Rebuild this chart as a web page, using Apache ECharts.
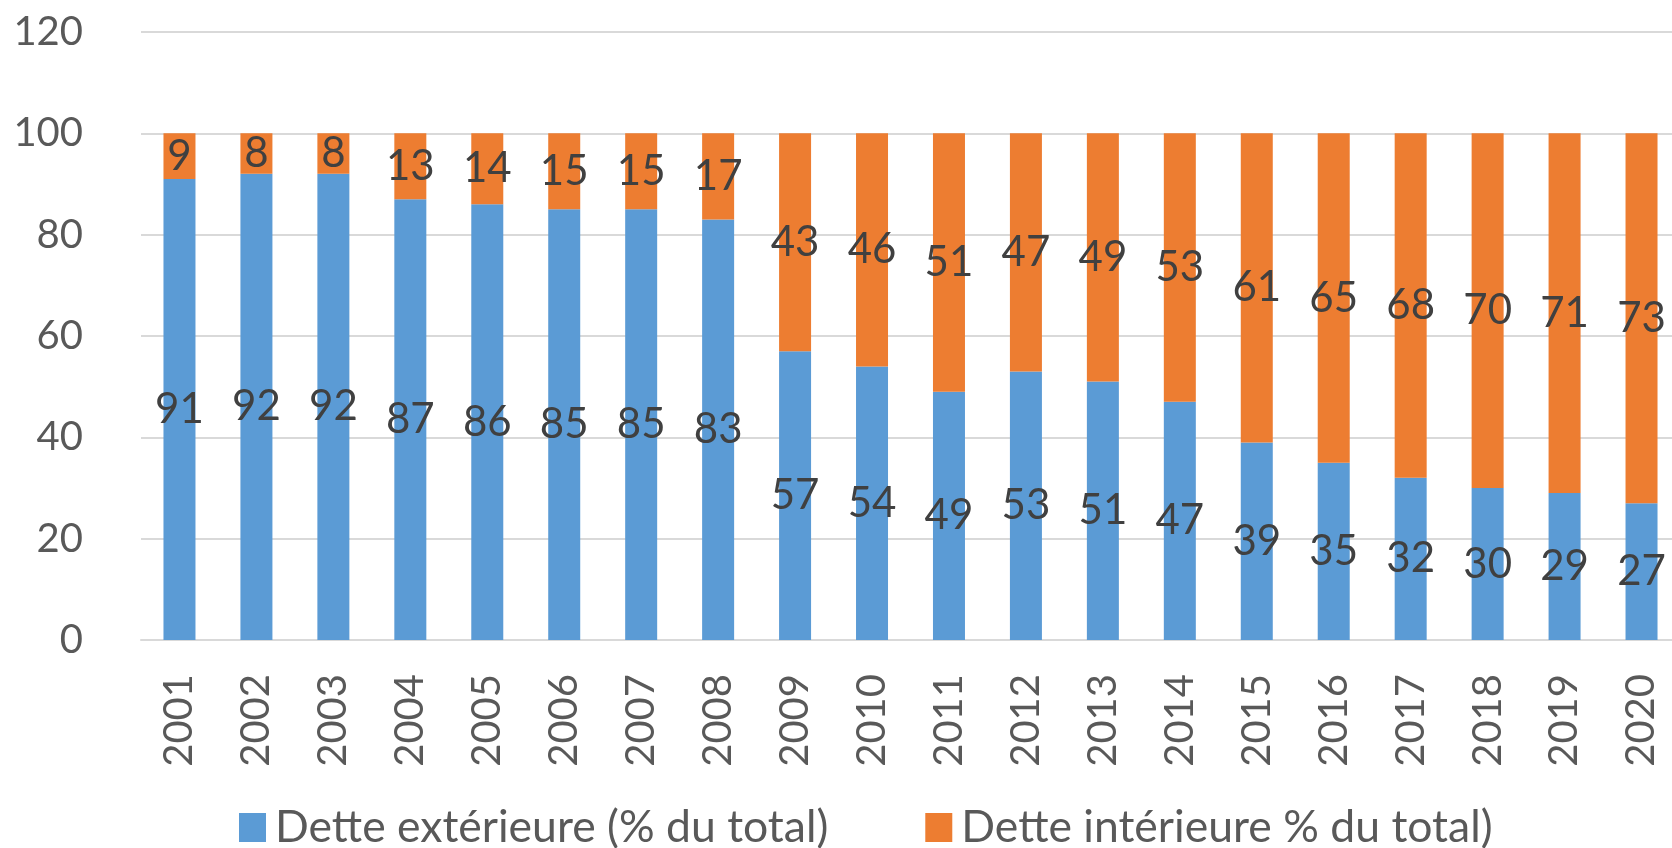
<!DOCTYPE html>
<html>
<head>
<meta charset="utf-8">
<script src="https://cdn.jsdelivr.net/npm/echarts@6/dist/echarts.min.js"></script>
<style>
html,body{margin:0;padding:0;background:#fff;overflow:hidden;width:1672px;height:848px;}
#c{width:1680px;height:848px;}
</style>
</head>
<body>
<div id="c"></div>
<script>
const years = ['2001','2002','2003','2004','2005','2006','2007','2008','2009','2010','2011','2012','2013','2014','2015','2016','2017','2018','2019','2020'];
const detteExterieure = [91,92,92,87,86,85,85,83,57,54,49,53,51,47,39,35,32,30,29,27];
const detteInterieure = [9,8,8,13,14,15,15,17,43,46,51,47,49,53,61,65,68,70,71,73];
const seriesNames = ['Dette extérieure (% du total)','Dette intérieure % du total)'];

const FONT = 'Lato, "Open Sans", sans-serif';
const chart = echarts.init(document.getElementById('c'));
const labelStyle = {show:true, position:'inside', color:'#404040', fontSize:42, fontFamily:FONT};
chart.setOption({
  animation:false,
  grid:{left:141, right:0, top:32, bottom:208, containLabel:false},
  legend:{
    left:234, top:800, itemGap:97, itemWidth:27, itemHeight:29,
    icon:'rect',
    textStyle:{fontSize:44.5, color:'#595959', fontFamily:FONT, padding:[0,0,0,4]},
    data:seriesNames
  },
  xAxis:{
    type:'category', data:years,
    axisLine:{lineStyle:{color:'#d9d9d9', width:2}},
    axisTick:{show:false},
    axisLabel:{rotate:90, margin:34, fontSize:40, color:'#595959', fontFamily:FONT}
  },
  yAxis:{
    type:'value', min:0, max:120, interval:20,
    axisLine:{show:false}, axisTick:{show:false},
    splitLine:{lineStyle:{color:'#d9d9d9', width:2}},
    axisLabel:{margin:58, fontSize:40, color:'#595959', fontFamily:FONT}
  },
  series:[
    {name:seriesNames[0], type:'bar', stack:'t', barWidth:32, data:detteExterieure,
     itemStyle:{color:'#5B9BD5'}, label:labelStyle},
    {name:seriesNames[1], type:'bar', stack:'t', barWidth:32, data:detteInterieure,
     itemStyle:{color:'#ED7D31'}, label:labelStyle}
  ]
});
</script>
</body>
</html>
